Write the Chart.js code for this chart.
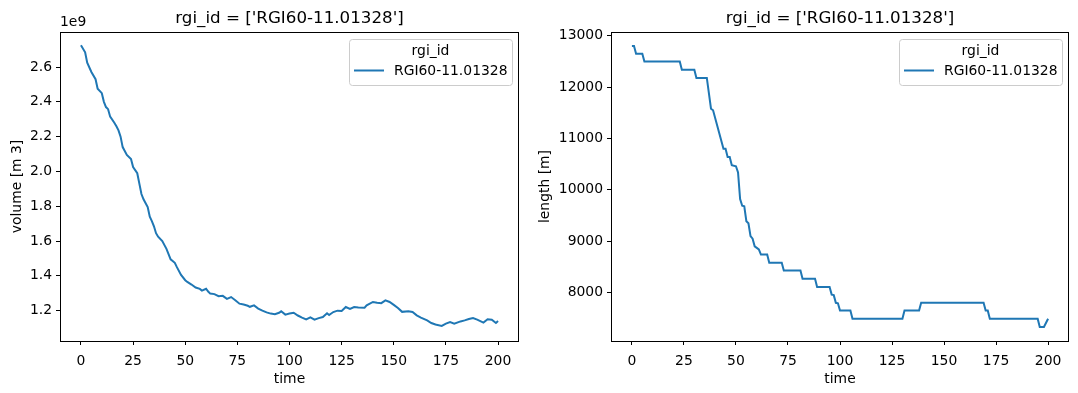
<!DOCTYPE html>
<html>
<head>
<meta charset="utf-8">
<script src="https://cdn.jsdelivr.net/npm/chart.js@4"></script>
<style>
html,body{margin:0;padding:0;background:#fff;}
#wrap{position:relative;width:1078px;height:393px;overflow:hidden;}
canvas{position:absolute;top:0;}
</style>
</head>
<body>
<div id="wrap">
<canvas id="volChart" width="528" height="393" style="left:0"></canvas>
<canvas id="lenChart" width="550" height="393" style="left:528px"></canvas>
</div>
<script>
// Data
const rgiId = "RGI60-11.01328";

// volume, in 1e9 m3
const volTime = [0,2,3,5,7,8,10,11,12,13,14,16,17,18,19,20,22,24,25,27,28,29,30,32,33,34,35,36,37,39,41,42,43,45,46,48,50,51,53,55,57,58,60,61,62,64,66,68,70,72,74,76,78,80,81,83,85,87,89,91,93,95,96,98,100,102,104,106,108,110,112,114,116,118,119,121,123,125,127,129,131,133,136,137,140,142,144,146,148,150,152,154,157,159,161,163,166,168,170,173,175,177,179,182,184,186,188,190,193,195,197,199,200];
const volume = [2.725,2.685,2.625,2.572,2.53,2.475,2.45,2.40,2.37,2.358,2.315,2.28,2.26,2.236,2.20,2.14,2.095,2.072,2.025,1.99,1.93,1.87,1.84,1.795,1.74,1.715,1.685,1.645,1.625,1.60,1.555,1.525,1.495,1.475,1.45,1.405,1.375,1.365,1.35,1.333,1.325,1.315,1.326,1.31,1.298,1.295,1.283,1.285,1.268,1.278,1.26,1.24,1.235,1.228,1.222,1.23,1.212,1.20,1.19,1.183,1.18,1.188,1.196,1.177,1.183,1.188,1.172,1.16,1.15,1.161,1.148,1.157,1.163,1.185,1.175,1.192,1.20,1.198,1.221,1.21,1.221,1.218,1.217,1.23,1.25,1.245,1.243,1.259,1.25,1.233,1.215,1.193,1.197,1.192,1.173,1.16,1.144,1.129,1.12,1.112,1.125,1.134,1.125,1.138,1.144,1.152,1.157,1.148,1.131,1.15,1.148,1.129,1.14];

// length, in m (points where the steps change)
const lenTime = [0,1,2,5,6,23,24,30,31,36,38,39,44,45,46,47,48,50,51,52,53,54,55,56,57,58,59,60,61,62,65,66,72,73,81,82,88,89,95,96,97,98,99,100,105,106,130,131,138,139,169,170,171,172,195,196,198,200];
const glacierLength = [12800,12800,12650,12650,12500,12500,12340,12340,12180,12180,11580,11550,10800,10800,10640,10640,10480,10460,10340,9820,9690,9680,9390,9350,9100,9050,8900,8870,8840,8740,8740,8580,8580,8430,8430,8270,8270,8110,8110,7960,7950,7800,7790,7650,7650,7490,7490,7650,7650,7800,7800,7650,7650,7490,7490,7330,7330,7490];

const timeTicks = [0,25,50,75,100,125,150,175,200];
const volTicks = [1.2,1.4,1.6,1.8,2.0,2.2,2.4,2.6];
const lenTicks = [8000,9000,10000,11000,12000,13000];

const FONT = "DejaVu Sans";
const BLUE = "#1f77b4";

// titles, spines, legend, axis labels
const deco = {
  id: "deco",
  afterDatasetsDraw(chart, args, o) {
    const ctx = chart.ctx, a = chart.chartArea;
    ctx.save();
    // spines
    ctx.strokeStyle = "#000"; ctx.lineWidth = 1;
    ctx.strokeRect(Math.round(a.left) + 0.5, Math.round(a.top) + 0.5, Math.round(a.right - a.left) - 1, Math.round(a.bottom - a.top));
    ctx.fillStyle = "#000";
    // title
    ctx.font = "16.7px '" + FONT + "'";
    ctx.textAlign = "center"; ctx.textBaseline = "alphabetic";
    ctx.fillText("rgi_id = ['" + rgiId + "']", (a.left + a.right) / 2, a.top - 9);
    // x label
    ctx.font = "13.9px '" + FONT + "'";
    ctx.fillText("time", (a.left + a.right) / 2, 383);
    // offset text
    if (o.offset) { ctx.textAlign = "left"; ctx.fillText(o.offset, a.left, a.top - 6); }
    // y label
    ctx.save();
    ctx.translate(17, (a.top + a.bottom) / 2);
    ctx.rotate(-Math.PI / 2);
    ctx.textAlign = "center"; ctx.textBaseline = "middle";
    ctx.fillText(o.yLabel, 0, 0);
    ctx.restore();
    // legend
    const w = 163, h = 46, bx = a.right - 7 - w, by = a.top + 7;
    ctx.beginPath(); ctx.roundRect(bx + 0.5, by + 0.5, w, h, 3);
    ctx.fillStyle = "rgba(255,255,255,0.8)"; ctx.fill();
    ctx.strokeStyle = "#cccccc"; ctx.stroke();
    ctx.fillStyle = "#000"; ctx.textAlign = "center"; ctx.textBaseline = "middle";
    ctx.fillText("rgi_id", bx + w / 2, by + 12);
    ctx.strokeStyle = BLUE; ctx.lineWidth = 2;
    ctx.beginPath(); ctx.moveTo(bx + 5, by + 31.5); ctx.lineTo(bx + 35, by + 31.5); ctx.stroke();
    ctx.textAlign = "left";
    ctx.fillText(rgiId, bx + 45, by + 32);
    ctx.restore();
  }
};

function axisStyle() {
  return {
    grid: { drawOnChartArea: false, drawTicks: true, tickLength: 4, color: "#000", lineWidth: 1 },
    border: { display: false },
  };
}

function makeChart(id, times, values, o) {
  return new Chart(document.getElementById(id), {
    type: "line",
    data: { datasets: [{ label: rgiId, data: times.map((t, i) => ({ x: t, y: values[i] })),
      borderColor: BLUE, borderWidth: 2, pointRadius: 0, tension: 0, fill: false }] },
    options: {
      responsive: false, animation: false, events: [],
      layout: { padding: { left: 0, right: 9, top: 32, bottom: 0 } },
      plugins: { legend: { display: false }, tooltip: { enabled: false }, deco: o },
      scales: {
        x: Object.assign(axisStyle(), {
          type: "linear", min: -10.05, max: 210.05,
          afterBuildTicks: s => { s.ticks = timeTicks.map(v => ({ value: v })); },
          afterFit: s => { s.height = 52; },
          ticks: { color: "#000", padding: 8, maxRotation: 0, autoSkip: false, font: { family: FONT, size: 13.9 } }
        }),
        y: Object.assign(axisStyle(), {
          type: "linear", min: o.yMin, max: o.yMax,
          afterBuildTicks: s => { s.ticks = o.ticks.map(v => ({ value: v })); },
          afterFit: s => { s.width = o.yWidth; },
          ticks: { color: "#000", padding: 4, autoSkip: false, font: { family: FONT, size: 13.9 }, callback: o.fmt }
        })
      }
    },
    plugins: [deco]
  });
}

makeChart("volChart", volTime, volume, {
  yMin: 1.0255, yMax: 2.8015, ticks: volTicks, yWidth: 60, offset: "1e9",
  yLabel: "volume [m 3]", fmt: v => v.toFixed(1)
});
makeChart("lenChart", lenTime, glacierLength, {
  yMin: 7056.5, yMax: 13073.5, ticks: lenTicks, yWidth: 83, offset: "",
  yLabel: "length [m]", fmt: v => String(v)
});
</script>
</body>
</html>
